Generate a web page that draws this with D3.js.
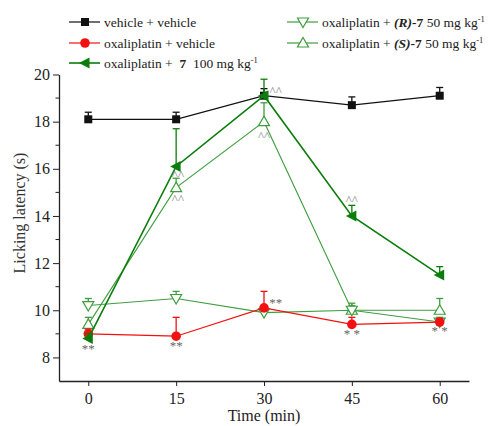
<!DOCTYPE html>
<html>
<head>
<meta charset="utf-8">
<script src="https://cdn.jsdelivr.net/npm/d3@7"></script>
<style>
  body { margin: 0; background: #fff; }
  svg text { font-family: "Liberation Serif", Tinos, "Times New Roman", "DejaVu Serif", serif; }
</style>
</head>
<body>
<div id="chart"></div>
<script>
// ---- data ----
const times = [0, 15, 30, 45, 60];

const vehVeh     = [18.1, 18.1, 19.1, 18.7, 19.1];
const vehVehErr  = [0.3, 0.3, 0.3, 0.35, 0.35];
const oxaVeh     = [9.0, 8.9, 10.1, 9.4, 9.5];
const oxaVehErr  = [0.2, 0.8, 0.7, 0.3, 0.15];
const oxa7       = [8.8, 16.1, 19.1, 14.0, 11.5];
const oxa7Err    = [0.2, 1.6, 0.7, 0.45, 0.35];
const oxaR7      = [10.2, 10.5, 9.9, 10.0, 9.5];
const oxaR7Err   = [0.3, 0.3, 0.2, 0.2, 0.2];
const oxaS7      = [9.4, 15.2, 18.0, 10.0, 10.0];
const oxaS7Err   = [0.3, 0.4, 0.8, 0.3, 0.5];

const yTicks = [8, 10, 12, 14, 16, 18, 20];
const xTicks = [0, 15, 30, 45, 60];

// significance marks: [time, value, text]
const caretMarks = [[15.3, 15.9, "^^"], [15.3, 14.9, "^^"], [32, 19.45, "^^"], [30, 17.55, "^^"], [45, 14.83, "^^"]];
const starMarks  = [[0, 8.5, "**"], [15, 8.6, "**"], [32, 10.45, "**"], [45, 9.1, "* *"], [60, 9.25, "* *"]];

// ---- svg ----
const width = 500, height = 426;
const serif = '"Liberation Serif", Tinos, "Times New Roman", "DejaVu Serif", serif';
const svg = d3.select("#chart").append("svg")
    .attr("width", width).attr("height", height)
    .attr("font-family", serif);

const x = d3.scaleLinear().domain([-5, 65]).range([59, 469]);
const y = d3.scaleLinear().domain([7, 20]).range([381, 74.5]);

// axes
const xAxis = d3.axisBottom(x).tickValues(xTicks).tickSize(5).tickSizeOuter(0);
const gx = svg.append("g").attr("transform", `translate(0, ${y(7)})`).call(xAxis)
    .attr("font-family", serif);
gx.selectAll("text").attr("font-size", 16).attr("dy", "0.95em").attr("fill", "#222");

const yAxis = d3.axisLeft(y).tickValues(yTicks).tickSize(6).tickSizeOuter(0);
const gy = svg.append("g").attr("transform", `translate(${x(-5)}, 0)`).call(yAxis)
    .attr("font-family", serif);
gy.selectAll("text").attr("font-size", 16).attr("fill", "#222");
// minor ticks
gy.selectAll(".minor").data(d3.range(9, 20, 2)).enter().append("line")
    .attr("class", "minor").attr("x1", 0).attr("x2", -3.5)
    .attr("y1", d => y(d)).attr("y2", d => y(d)).attr("stroke", "#222");
[gx, gy].forEach(g => {
    g.select(".domain").attr("stroke", "#222").attr("stroke-width", 1.3);
    g.selectAll(".tick line").attr("stroke", "#222");
});

svg.append("text").attr("x", x(30)).attr("y", 421).attr("text-anchor", "middle")
    .attr("font-size", 16).attr("fill", "#222").text("Time (min)");
svg.append("text").attr("transform", "translate(25, 213) rotate(-90)")
    .attr("text-anchor", "middle").attr("font-size", 16).attr("fill", "#333")
    .text("Licking latency (s)");

// ---- series ----
const darkGreen = "#0a7d0a", lightGreen = "#3f9e3f";
const series = [
    { vals: oxaS7, err: oxaS7Err, color: lightGreen, sw: 1.1, shape: "up" },
    { vals: oxaR7, err: oxaR7Err, color: lightGreen, sw: 1.1, shape: "down" },
    { vals: oxaVeh, err: oxaVehErr, color: "#f21010", sw: 1.2, shape: "circle" },
    { vals: vehVeh, err: vehVehErr, color: "#111", sw: 1.2, shape: "square" },
    { vals: oxa7, err: oxa7Err, color: darkGreen, sw: 1.6, shape: "left" }
];

const line = d3.line().x((d, i) => x(times[i])).y(d => y(d));

function drawMarker(g, shape, color, cx, cy) {
    if (shape === "square") {
        g.append("rect").attr("x", cx - 4).attr("y", cy - 4).attr("width", 8).attr("height", 8).attr("fill", color);
    } else if (shape === "circle") {
        g.append("circle").attr("cx", cx).attr("cy", cy).attr("r", 4.8).attr("fill", color);
    } else if (shape === "up") {
        g.append("path").attr("d", `M${cx},${cy - 5.5}L${cx + 5.5},${cy + 4}L${cx - 5.5},${cy + 4}Z`)
            .attr("fill", "#fff").attr("stroke", color).attr("stroke-width", 1.2);
    } else if (shape === "down") {
        g.append("path").attr("d", `M${cx},${cy + 5.5}L${cx + 5.5},${cy - 4}L${cx - 5.5},${cy - 4}Z`)
            .attr("fill", "#fff").attr("stroke", color).attr("stroke-width", 1.2);
    } else if (shape === "left") {
        g.append("path").attr("d", `M${cx - 6},${cy}L${cx + 4.5},${cy - 5.5}L${cx + 4.5},${cy + 5.5}Z`)
            .attr("fill", color);
    }
}

series.forEach(s => {
    const g = svg.append("g");
    // error bars (upper only)
    s.vals.forEach((v, i) => {
        const cx = x(times[i]), top = y(v + s.err[i]);
        g.append("line").attr("x1", cx).attr("x2", cx).attr("y1", y(v)).attr("y2", top)
            .attr("stroke", s.color).attr("stroke-width", 1.3);
        g.append("line").attr("x1", cx - 3.5).attr("x2", cx + 3.5).attr("y1", top).attr("y2", top)
            .attr("stroke", s.color).attr("stroke-width", 1.3);
    });
    g.append("path").datum(s.vals).attr("d", line).attr("fill", "none")
        .attr("stroke", s.color).attr("stroke-width", s.sw);
    s.vals.forEach((v, i) => drawMarker(g, s.shape, s.color, x(times[i]), y(v)));
});

// significance marks
svg.selectAll(".caret").data(caretMarks).enter().append("text")
    .attr("x", d => x(d[0])).attr("y", d => y(d[1]) + 8)
    .attr("text-anchor", "middle").attr("font-size", 13).attr("fill", "#888")
    .text(d => d[2]);
svg.selectAll(".star").data(starMarks).enter().append("text")
    .attr("x", d => x(d[0])).attr("y", d => y(d[1]) + 7)
    .attr("text-anchor", "middle").attr("font-size", 13).attr("fill", "#666")
    .text(d => d[2]);

// ---- legend ----
const legendItems = [
    { col: 0, row: 0, color: "#111", shape: "square", parts: [["vehicle + vehicle"]] },
    { col: 0, row: 1, color: "#f21010", shape: "circle", parts: [["oxaliplatin + vehicle"]] },
    { col: 0, row: 2, color: darkGreen, shape: "left", parts: [["oxaliplatin + "], [" 7", "b"], ["  100 mg kg"], ["-1", "sup"]] },
    { col: 1, row: 0, color: lightGreen, shape: "down", parts: [["oxaliplatin + "], ["(R)", "bi"], ["-7", "b"], [" 50 mg kg"], ["-1", "sup"]] },
    { col: 1, row: 1, color: lightGreen, shape: "up", parts: [["oxaliplatin + "], ["(S)", "bi"], ["-7", "b"], [" 50 mg kg"], ["-1", "sup"]] }
];
const colX = [69, 287], rowY = [22, 43, 63];
legendItems.forEach(it => {
    const lx = colX[it.col], ly = rowY[it.row];
    const g = svg.append("g");
    g.append("line").attr("x1", lx).attr("x2", lx + 31).attr("y1", ly).attr("y2", ly)
        .attr("stroke", it.color).attr("stroke-width", it.shape === "left" ? 1.6 : 1.2);
    drawMarker(g, it.shape, it.color, lx + 16, ly);
    const t = g.append("text").attr("x", lx + 35).attr("y", ly + 4.5)
        .attr("font-size", 13.5).attr("fill", "#222").attr("xml:space", "preserve");
    it.parts.forEach(p => {
        const ts = t.append("tspan").text(p[0]);
        if (p[1] === "b") ts.attr("font-weight", "bold");
        if (p[1] === "bi") ts.attr("font-weight", "bold").attr("font-style", "italic");
        if (p[1] === "sup") ts.attr("font-size", 8.5).attr("dy", -5);
    });
});
</script>
</body>
</html>
